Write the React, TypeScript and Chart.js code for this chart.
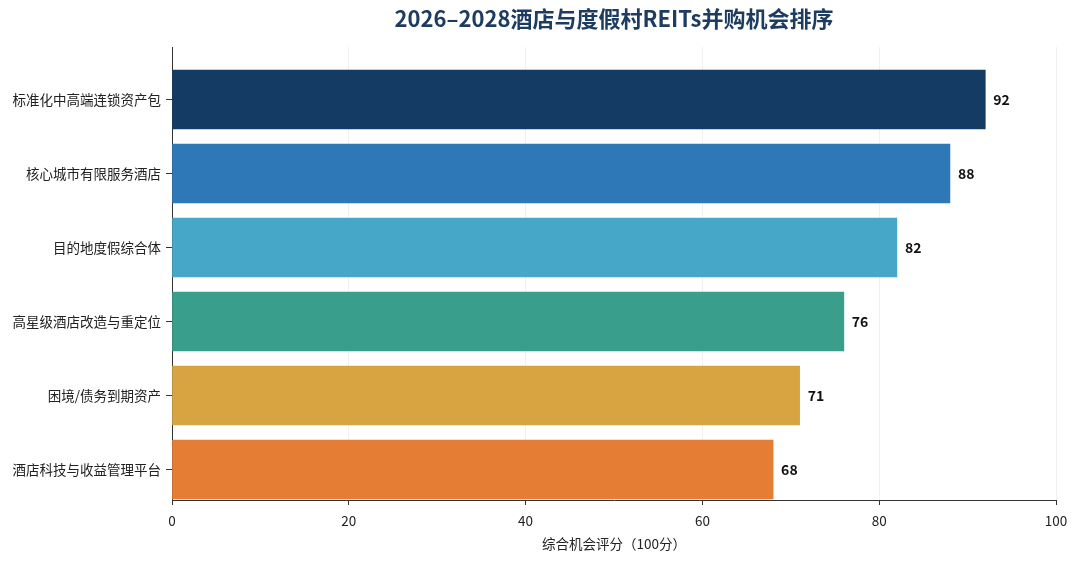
import { Chart, registerables } from "chart.js";
import React, { useEffect, useRef } from "react";

Chart.register(...registerables);

const categories = [
  "标准化中高端连锁资产包",
  "核心城市有限服务酒店",
  "目的地度假综合体",
  "高星级酒店改造与重定位",
  "困境/债务到期资产",
  "酒店科技与收益管理平台",
];
const scores = [92, 88, 82, 76, 71, 68];
const barColors = ["#143b63", "#2e78b7", "#46a7c9", "#3a9e8c", "#d8a441", "#e57d35"];
const xTicks = [0, 20, 40, 60, 80, 100];

const FONT = "'Noto Sans CJK SC', 'Noto Sans', sans-serif";
const Y_MIN = -0.709;
const Y_MAX = 5.412;

const App: React.FC = () => {
  const chartRef = useRef<HTMLCanvasElement | null>(null);

  useEffect(() => {
    if (!chartRef.current) return;

    const titlePlugin = {
      id: "centerTitle",
      afterDraw(chart: Chart) {
        const { ctx, chartArea } = chart;
        ctx.save();
        ctx.font = `bold 22px ${FONT}`;
        ctx.fillStyle = "#1d3c61";
        ctx.textAlign = "center";
        ctx.textBaseline = "middle";
        ctx.fillText("2026–2028酒店与度假村REITs并购机会排序", (chartArea.left + chartArea.right) / 2, 19);
        ctx.restore();
      },
    };

    const valueLabels = {
      id: "valueLabels",
      afterDatasetsDraw(chart: Chart) {
        const { ctx } = chart;
        const meta = chart.getDatasetMeta(0);
        ctx.save();
        ctx.font = `bold 14px ${FONT}`;
        ctx.fillStyle = "#111";
        ctx.textAlign = "left";
        ctx.textBaseline = "middle";
        meta.data.forEach((bar: any, i: number) => {
          ctx.fillText(String(scores[i]), bar.x + 8, bar.y);
        });
        ctx.restore();
      },
    };

    const chart = new Chart(chartRef.current, {
      type: "bar",
      data: {
        datasets: [
          {
            data: scores.map((v, i) => ({ x: v, y: i })),
            backgroundColor: barColors,
            borderWidth: 0,
            barThickness: 59,
          },
        ],
      },
      options: {
        indexAxis: "y",
        animation: false,
        responsive: true,
        maintainAspectRatio: false,
        layout: { padding: { top: 47, right: 24, left: 0, bottom: 0 } },
        plugins: {
          legend: { display: false },
          tooltip: { enabled: false },
        },
        scales: {
          x: {
            type: "linear",
            min: 0,
            max: 100,
            afterBuildTicks: (scale: any) => {
              scale.ticks = xTicks.map((v) => ({ value: v }));
            },
            afterFit: (scale: any) => {
              scale.height = 61;
            },
            ticks: { font: { size: 13.5, family: FONT }, color: "#222", padding: 8 },
            grid: {
              color: "rgba(0,0,0,0.06)",
              tickColor: "#333",
              tickLength: 5,
            },
            border: { display: true, color: "#333", width: 1 },
            title: {
              display: true,
              text: "综合机会评分（100分）",
              font: { size: 13.5, family: FONT },
              color: "#222",
              padding: { top: 2, bottom: 9 },
            },
          },
          y: {
            type: "linear",
            reverse: true,
            offset: false,
            bounds: "data",
            min: Y_MIN,
            max: Y_MAX,
            afterBuildTicks: (scale: any) => {
              scale.ticks = categories.map((_, i) => ({ value: i }));
            },
            afterFit: (scale: any) => {
              scale.width = 172;
            },
            ticks: {
              font: { size: 13.5, family: FONT },
              color: "#222",
              padding: 5,
              callback: (v: any) => categories[Number(v)] ?? "",
            },
            grid: {
              offset: false,
              drawOnChartArea: false,
              tickColor: "#333",
              tickLength: 6,
            },
            border: { display: true, color: "#333", width: 1 },
          },
        },
      },
      plugins: [titlePlugin, valueLabels],
    });

    return () => {
      chart.destroy();
    };
  }, []);

  return (
    <div style={{ position: "fixed", left: 0, top: 0, width: 1080, height: 561, background: "#fff" }}>
      <canvas ref={chartRef} />
    </div>
  );
};

export default App;
